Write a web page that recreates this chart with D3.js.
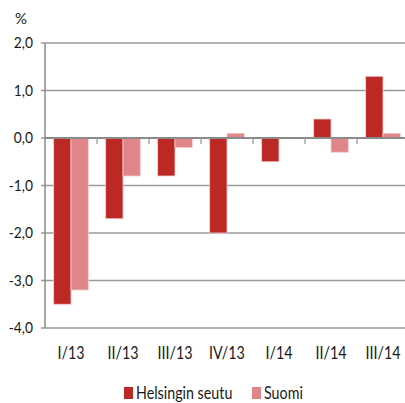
<!DOCTYPE html>
<html>
<head>
<meta charset="utf-8">
<script src="https://cdn.jsdelivr.net/npm/d3@7"></script>
<style>
  body { margin: 0; background: #fff; }
  text { font-family: Lato, "Open Sans", sans-serif; fill: #1a1a1a; }
</style>
</head>
<body>
<div id="container"></div>
<script>
const quarters = ["I/13", "II/13", "III/13", "IV/13", "I/14", "II/14", "III/14"];
const helsinki = [-3.5, -1.7, -0.8, -2.0, -0.5, 0.4, 1.3];
const suomi = [-3.2, -0.8, -0.2, 0.1, 0.0, -0.3, 0.1];
const seriesNames = ["Helsingin seutu", "Suomi"];
const colors = ["#bc2925", "#e0868a"];
const yTicks = [2, 1, 0, -1, -2, -3, -4];

const w = 405, h = 403;
const padLeft = 45, padRight = 409, padTop = 43, padBottom = 328;
const squeeze = 0.84; // narrow the font a bit, like Calibri

const svg = d3.select("#container").append("svg")
  .attr("width", w).attr("height", h);

const xScale = d3.scaleBand().domain(quarters).range([padLeft, padRight]);
const xInner = d3.scaleBand().domain([0, 1]).range([0, xScale.bandwidth()]).paddingOuter(0.5).paddingInner(0);
const yScale = d3.scaleLinear().domain([-4, 2]).range([padBottom, padTop]);

const fmt = d => d3.format(".1f")(d).replace(".", ",").replace("−", "-");

// gridlines
svg.append("g").selectAll("line").data(yTicks).join("line")
  .attr("x1", padLeft - 4).attr("x2", w)
  .attr("y1", d => yScale(d)).attr("y2", d => yScale(d))
  .attr("stroke", "#9a9a9a").attr("stroke-width", 1.3);

// y labels
svg.append("g").selectAll("text").data(yTicks).join("text")
  .attr("transform", d => `translate(33,${yScale(d)}) scale(0.92,1)`)
  .attr("dy", "0.35em")
  .attr("text-anchor", "end").style("font-size", "15px")
  .text(fmt);

svg.append("text").attr("x", 15).attr("y", 24).style("font-size", "15px").text("%");

// bars
const series = [helsinki, suomi];
series.forEach((vals, si) => {
  svg.append("g").selectAll("rect").data(vals).join("rect")
    .attr("x", (d, i) => xScale(quarters[i]) + xInner(si))
    .attr("width", xInner.bandwidth())
    .attr("y", d => yScale(Math.max(0, d)))
    .attr("height", d => Math.abs(yScale(d) - yScale(0)))
    .attr("fill", colors[si])
    .attr("stroke", "#f4d0d0").attr("stroke-width", 0.8);
});

// left axis line
svg.append("line").attr("x1", padLeft).attr("x2", padLeft)
  .attr("y1", padTop).attr("y2", padBottom)
  .attr("stroke", "#8a8a8a").attr("stroke-width", 1.5);

// zero axis with category ticks
svg.append("line").attr("x1", padLeft).attr("x2", w)
  .attr("y1", yScale(0)).attr("y2", yScale(0))
  .attr("stroke", "#8a8a8a").attr("stroke-width", 2);
svg.append("g").selectAll("line").data(quarters.slice(1)).join("line")
  .attr("x1", d => xScale(d)).attr("x2", d => xScale(d))
  .attr("y1", yScale(0)).attr("y2", yScale(0) + 6)
  .attr("stroke", "#9a9a9a").attr("stroke-width", 1.3);

// x labels
svg.append("g").selectAll("text").data(quarters).join("text")
  .attr("transform", d => `translate(${xScale(d) + xScale.bandwidth() / 2},353) scale(${squeeze},1)`)
  .attr("dy", "0.35em")
  .attr("text-anchor", "middle").style("font-size", "17px")
  .text(d => d);

// legend
const legendX = [124, 252];
seriesNames.forEach((name, i) => {
  svg.append("rect").attr("x", legendX[i]).attr("y", 387)
    .attr("width", 9).attr("height", 12).attr("fill", colors[i]);
  svg.append("text")
    .attr("transform", `translate(${legendX[i] + 12},393) scale(${squeeze},1)`)
    .attr("dy", "0.35em")
    .style("font-size", "17px").text(name);
});
</script>
</body>
</html>
